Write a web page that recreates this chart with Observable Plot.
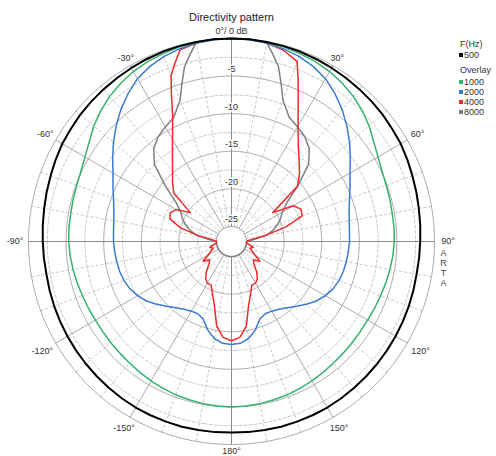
<!DOCTYPE html>
<html><head><meta charset="utf-8">
<script src="https://cdn.jsdelivr.net/npm/d3@7"></script>
<script src="https://cdn.jsdelivr.net/npm/@observablehq/plot@0.6"></script>
<style>
body{margin:0;background:#fff;font-family:"Liberation Sans",Arial,sans-serif;}
#wrap{position:relative;width:496px;height:456px;}
#legend{position:absolute;left:0;top:0;width:496px;height:0;font-size:9px;color:#333;}
.lg{position:absolute;left:460px;line-height:10px;white-space:nowrap;}
.sq{display:inline-block;width:4px;height:4px;margin:0 1px 1px -1px;vertical-align:middle;}
</style></head><body><div id="wrap"><div id="legend"></div></div>
<script>
// ---- data ----
const angles = [-180,-175,-170,-165,-160,-155,-150,-145,-140,-135,-130,-125,-120,-115,-110,-105,-100,-95,-90,-85,-80,-75,-70,-65,-60,-55,-50,-45,-40,-35,-30,-25,-20,-15,-10,-5,0,5,10,15,20,25,30,35,40,45,50,55,60,65,70,75,80,85,90,95,100,105,110,115,120,125,130,135,140,145,150,155,160,165,170,175,180];

const db500 = [-1.6,-1.55,-1.55,-1.5,-1.5,-1.5,-1.5,-1.55,-1.6,-1.65,-1.7,-1.75,-1.8,-1.85,-1.9,-1.95,-2.0,-1.95,-1.9,-1.8,-1.7,-1.55,-1.4,-1.2,-1.0,-0.9,-0.75,-0.65,-0.55,-0.45,-0.35,-0.25,-0.15,-0.1,-0.05,0,0,0,-0.05,-0.1,-0.15,-0.25,-0.35,-0.45,-0.55,-0.65,-0.75,-0.9,-1.0,-1.2,-1.4,-1.55,-1.7,-1.8,-1.9,-1.95,-2.0,-1.95,-1.9,-1.85,-1.8,-1.75,-1.7,-1.65,-1.6,-1.55,-1.5,-1.5,-1.5,-1.5,-1.55,-1.55,-1.6];

const db1000 = [-5.0,-5.05,-5.1,-5.2,-5.3,-5.45,-5.6,-5.75,-5.9,-6.0,-6.05,-6.1,-6.1,-6.0,-5.9,-5.75,-5.6,-5.45,-5.35,-5.3,-5.3,-5.2,-5.1,-4.9,-4.5,-3.9,-3.1,-2.4,-1.8,-1.3,-0.9,-0.6,-0.4,-0.2,-0.1,0,0,0,-0.1,-0.2,-0.4,-0.6,-0.9,-1.3,-1.8,-2.4,-3.1,-3.9,-4.5,-4.9,-5.1,-5.2,-5.3,-5.3,-5.35,-5.45,-5.6,-5.75,-5.9,-6.0,-6.1,-6.1,-6.05,-6.0,-5.9,-5.75,-5.6,-5.45,-5.3,-5.2,-5.1,-5.05,-5.0];

const db2000 = [-13.3,-13.4,-13.9,-14.8,-16.0,-16.4,-16.3,-16.0,-15.5,-14.8,-14.0,-13.2,-12.6,-12.1,-11.8,-11.6,-11.5,-11.4,-11.3,-11.25,-11.1,-10.8,-10.3,-9.6,-8.8,-7.7,-6.5,-5.3,-4.1,-3.0,-2.0,-1.3,-0.8,-0.45,-0.2,-0.05,0,-0.05,-0.2,-0.45,-0.8,-1.3,-2.0,-3.0,-4.1,-5.3,-6.5,-7.7,-8.8,-9.6,-10.3,-10.8,-11.1,-11.25,-11.3,-11.4,-11.5,-11.6,-11.8,-12.1,-12.6,-13.2,-14.0,-14.8,-15.5,-16.0,-16.3,-16.4,-16.0,-14.8,-13.9,-13.4,-13.3];

const db4000 = [-13.8,-14.2,-15.6,-18.2,-19.6,-20.6,-20.6,-21.0,-21.8,-22.8,-23.2,-22.4,-23.4,-24.0,-24.4,-24.0,-24.6,-25,-25,-24.5,-22.5,-20.0,-18.3,-18.0,-18.5,-20.3,-17.0,-15.9,-14.8,-13.3,-11.3,-8.5,-3.5,-0.6,-0.2,0,0,0,-0.2,-0.6,-1.5,-6.0,-9.3,-11.5,-13.0,-14.2,-15.5,-20.3,-17.5,-16.8,-17.0,-19.5,-22.5,-24.5,-25,-25,-24.6,-24.0,-24.4,-24.0,-23.4,-22.4,-23.2,-22.8,-21.8,-21.0,-20.6,-20.6,-19.6,-18.2,-15.6,-14.2,-13.8];

const db8000 = [-25,-25,-25,-25,-25,-25,-25,-25,-25,-25,-25,-25,-25,-25,-25,-25,-25,-25,-25,-24.0,-22.3,-21.3,-20.5,-19.8,-19.2,-18.0,-15.5,-12.5,-10.9,-10.0,-9.4,-8.8,-7.0,-2.9,-0.1,0,0,0,-0.1,-2.9,-7.0,-8.8,-9.4,-10.0,-10.9,-12.5,-15.5,-18.0,-19.2,-19.8,-20.5,-21.3,-22.3,-24.0,-25,-25,-25,-25,-25,-25,-25,-25,-25,-25,-25,-25,-25,-25,-25,-25,-25,-25,-25];

const freqs = ["500","1000","2000","4000","8000"];
const colors = ["#000000","#33b36b","#3b7bd0","#f02a2a","#808080"];
const seriesValues = [db500, db1000, db2000, db4000, db8000];

const ringLevels = [0,-5,-10,-15,-20];
const ringLabels = [-5,-10,-15,-20,-25];
const minorRings = [-2.5,-7.5,-12.5,-17.5,-22.5];
const spokeAngles = [-170,-160,-150,-140,-130,-120,-110,-100,-90,-80,-70,-60,-50,-40,-30,-20,-10,0,10,20,30,40,50,60,70,80,90,100,110,120,130,140,150,160,170,180];
const angleTicks = [30,60,90,120,150,180,-150,-120,-90,-60,-30];
const dbMin = -25, dbMax = 0;

// ---- scales (polar on an azimuthal projection) ----
const innerFrac = 0.074;
const radial = d3.scaleLinear().domain([dbMin, dbMax]).range([90*innerFrac, 90]).clamp(true);
const lat = v => 90 - radial(v);
const lon = a => 180 - a;
const circle = dist => d3.geoCircle().center([0, 90]).radius(dist).precision(1)();

const W = 496, H = 456;
const mL = 28, mR = 62, mT = 38, mB = 12;
const outerPx = (W - mL - mR) / 2;
const labelR = a => {
  const t = a * Math.PI / 180;
  return 210 + 6.5 * Math.sin(t) ** 2 + (Math.abs(a) > 90 ? 4 * Math.abs(Math.sin(2 * t)) : 0);
};
const labelLat = a => 90 - 90 * labelR(a) / outerPx;

const marks = [];
// minor rings (dashed)
marks.push(Plot.geo(minorRings.map(v => circle(radial(v))), {stroke: "#c8c8c8", strokeDasharray: "3,2", strokeWidth: 1}));
// spokes
marks.push(Plot.link(spokeAngles.filter(a => a % 30 !== 0), {x1: lon, y1: () => lat(dbMin), x2: lon, y2: () => lat(dbMax), stroke: "#c8c8c8", strokeDasharray: "3,2", strokeWidth: 1}));
marks.push(Plot.link(spokeAngles.filter(a => a % 30 === 0 && a % 90 !== 0), {x1: lon, y1: () => lat(dbMin), x2: lon, y2: () => lat(dbMax), stroke: "#aaaaaa", strokeWidth: 1}));
// major rings
marks.push(Plot.geo(ringLevels.map(v => circle(radial(v))), {stroke: "#aaaaaa", strokeWidth: 1}));
marks.push(Plot.link(spokeAngles.filter(a => a % 90 === 0), {x1: lon, y1: () => lat(dbMin), x2: lon, y2: () => lat(dbMax), stroke: "#8c8c8c", strokeWidth: 1}));

// inner hole
marks.push(Plot.geo([circle(radial(dbMin))], {fill: "white", stroke: "#8c8c8c", strokeWidth: 1}));

// data curves (draw order)
[4,3,2,1,0].forEach(i => {
  const rows = angles.map((a, j) => ({angle: a, db: seriesValues[i][j]}));
  marks.push(Plot.line(rows, {x: d => lon(d.angle), y: d => lat(d.db), stroke: colors[i], strokeWidth: i === 0 ? 2 : 1.5}));
});

// dB labels
marks.push(Plot.text(ringLabels, {x: () => lon(0), y: d => lat(d), text: d => String(d), dy: -7, fontSize: 9, fill: "#333", stroke: "white", strokeWidth: 3}));
// angle labels
marks.push(Plot.text(angleTicks, {x: lon, y: labelLat, text: d => d + "°", fontSize: 9, fill: "#333", textAnchor: "middle", lineAnchor: "middle"}));
marks.push(Plot.text(["0°/ 0 dB"], {x: () => lon(0), y: () => labelLat(0), fontSize: 9, fill: "#333", textAnchor: "middle", lineAnchor: "middle"}));
// title
marks.push(Plot.text(["Directivity pattern"], {frameAnchor: "top", dy: -21, fontSize: 11, fill: "#222", textAnchor: "middle", lineAnchor: "middle"}));
// watermark
marks.push(Plot.text(["A\nR\nT\nA"], {frameAnchor: "right", dx: 9, dy: 26, fontSize: 9, lineHeight: 1.1, fill: "#444", textAnchor: "middle", lineAnchor: "middle"}));

const plot = Plot.plot({
  width: W, height: H,
  marginLeft: mL, marginRight: mR, marginTop: mT, marginBottom: mB,
  style: {fontFamily: "'Liberation Sans', Arial, sans-serif", background: "white"},
  projection: {type: "azimuthal-equidistant", rotate: [0, -90], domain: circle(90), inset: 0, clip: false},
  marks
});
document.getElementById("wrap").prepend(plot);

// legend
const legend = document.getElementById("legend");
const rowsTop = [{text: "F(Hz)", y: 39}, {i: 0, y: 50}, {text: "Overlay", y: 65}, {i: 1, y: 76.5}, {i: 2, y: 86.5}, {i: 3, y: 96.5}, {i: 4, y: 106.5}];
rowsTop.forEach(r => {
  const d = document.createElement("div");
  d.className = "lg";
  d.style.top = r.y + "px";
  if (r.text) d.textContent = r.text;
  else d.innerHTML = `<span class="sq" style="background:${colors[r.i]}"></span>${freqs[r.i]}`;
  legend.appendChild(d);
});
</script></body></html>
